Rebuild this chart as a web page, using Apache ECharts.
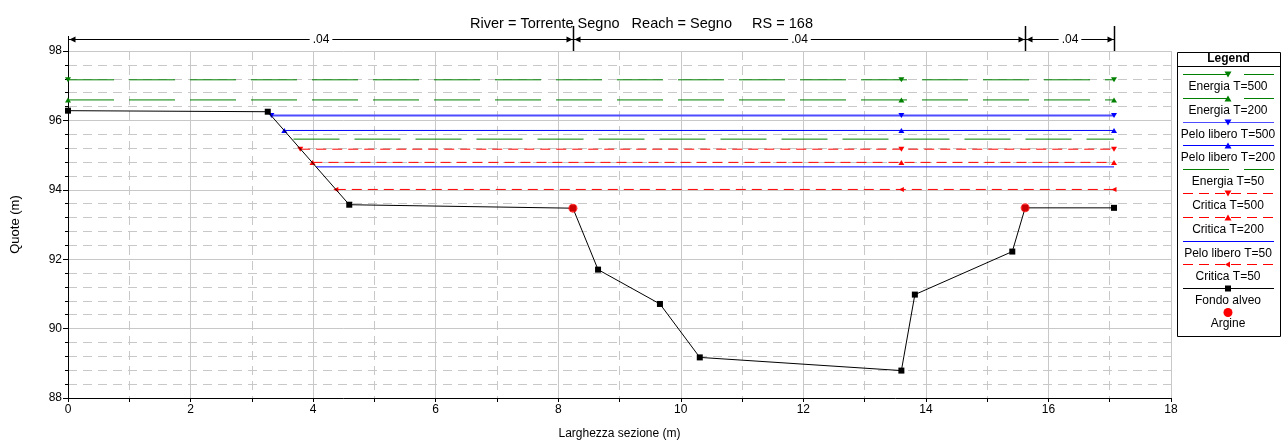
<!DOCTYPE html>
<html><head><meta charset="utf-8">
<script src="https://cdn.jsdelivr.net/npm/echarts@6/dist/echarts.min.js"></script>
<style>html,body{margin:0;padding:0;background:#fff}#c{width:1283px;height:445px}</style>
</head><body><div id="c"></div>
<script>
// ---------- DATA ----------
const groundX = [0, 3.26, 4.59, 8.24, 8.65, 9.66, 10.31, 13.60, 13.82, 15.41, 15.62, 17.07];
const groundY = [96.28, 96.25, 93.57, 93.47, 91.70, 90.71, 89.17, 88.79, 90.98, 92.22, 93.48, 93.48];
const argineX = [8.24, 15.62];
const argineY = [93.47, 93.48];
const wsNames = ['Energia T=500', 'Energia T=200', 'Pelo libero T=500', 'Pelo libero T=200', 'Energia T=50',
  'Critica T=500', 'Critica T=200', 'Pelo libero T=50', 'Critica T=50'];
const wsLevels = [97.17, 96.59, 96.14, 95.71, 95.46, 95.17, 94.79, 94.66, 94.01];
const wsStartX = [0, 0, 3.32, 3.53, 3.68, 3.79, 3.99, 4.05, 4.37];
const wsMarkX = 13.6;
const wsEndX = 17.07;
const nBoundsX = [0, 8.24, 15.62, 17.07];
const nValues = ['.04', '.04', '.04'];
const titleText = 'River = Torrente Segno   Reach = Segno     RS = 168';
const xName = 'Larghezza sezione (m)';
const yName = 'Quote (m)';

// ---------- STYLES ----------
const FONT = 'Liberation Sans, Arial, sans-serif';
const GREEN = '#008000', BLUE = '#0000ff', RED = '#ff0000';
const TRI_DOWN = 'path://M0,0L10,0L5,9Z';
const TRI_UP = 'path://M5,0L10,9L0,9Z';
const TRI_LEFT = 'path://M0,5L9,0L9,10Z';
const wsStyles = [
  {color: GREEN, dash: [46, 15], symbol: TRI_DOWN, width: 1},
  {color: GREEN, dash: [46, 15], symbol: TRI_UP, width: 1},
  {color: '#4d4dff', dash: 'solid', symbol: TRI_DOWN, width: 2, markColor: BLUE},
  {color: BLUE, dash: 'solid', symbol: TRI_UP, width: 1},
  {color: GREEN, dash: [46, 15], symbol: null, width: 1},
  {color: RED, dash: [10, 6], symbol: TRI_DOWN, width: 1},
  {color: RED, dash: [10, 6], symbol: TRI_UP, width: 1},
  {color: BLUE, dash: 'solid', symbol: null, width: 1},
  {color: RED, dash: [10, 6], symbol: TRI_LEFT, width: 1}
];

const chart = echarts.init(document.getElementById('c'), null, {renderer: 'canvas'});

const wsSeries = wsNames.map((name, i) => {
  const st = wsStyles[i];
  const y = wsLevels[i];
  const data = st.symbol ? [[wsStartX[i], y], [wsMarkX, y], [wsEndX, y]] : [[wsStartX[i], y], [wsEndX, y]];
  return {
    type: 'line', name: name, data: data,
    symbol: st.symbol || 'none', symbolSize: st.symbol === TRI_LEFT ? [5, 5] : [6, 5], showAllSymbol: true,
    lineStyle: {color: st.color, width: st.width, type: st.dash},
    itemStyle: {color: st.markColor || st.color},
    z: 5, animation: false, silent: true
  };
});

const groundSeries = {
  type: 'line', name: 'Fondo alveo',
  data: groundX.map((x, i) => [x, groundY[i]]),
  symbol: 'rect', symbolSize: 6, showAllSymbol: true,
  lineStyle: {color: '#000', width: 1}, itemStyle: {color: '#000'},
  z: 6, animation: false, silent: true
};
const argineSeries = {
  type: 'scatter', name: 'Argine',
  data: argineX.map((x, i) => [x, argineY[i]]),
  symbol: 'circle', symbolSize: 9, itemStyle: {color: RED},
  z: 7, animation: false, silent: true
};

const manningSeries = {
  type: 'custom', clip: false, z: 8, animation: false, silent: true,
  data: nValues.map((v, i) => [nBoundsX[i], nBoundsX[i + 1]]),
  renderItem: function (params, api) {
    const i = params.dataIndex;
    const p0 = api.coord([api.value(0), 98]);
    const p1 = api.coord([api.value(1), 98]);
    const yTop = p0[1];
    const yl = Math.round(yTop - 12) + 0.5;
    const L = Math.round(p0[0]) + 0.5, R = Math.round(p1[0]) + 0.5;
    const ls = {stroke: '#000', lineWidth: 1};
    const ch = [
      {type: 'line', shape: {x1: L, y1: yl, x2: R, y2: yl}, style: ls},
      {type: 'line', shape: {x1: R, y1: yTop - 25, x2: R, y2: yTop}, style: {stroke: '#000', lineWidth: 1.5}},
      {type: 'polygon', shape: {points: [[L + 1, yl], [L + 7, yl - 3], [L + 7, yl + 3]]}, style: {fill: '#000'}},
      {type: 'polygon', shape: {points: [[R - 1, yl], [R - 7, yl - 3], [R - 7, yl + 3]]}, style: {fill: '#000'}},
      {type: 'text', x: (L + R) / 2, y: yl, style: {text: nValues[i], fill: '#000', font: '12px ' + FONT,
        align: 'center', verticalAlign: 'middle', backgroundColor: '#fff', padding: [0, 3]}}
    ];
    if (i === 0) {
      ch.push({type: 'line', shape: {x1: L, y1: yTop - 15, x2: L, y2: yTop}, style: ls});
    }
    return {type: 'group', children: ch};
  }
};

// ---------- LEGEND (graphic) ----------
const legendNames = wsNames.concat(['Fondo alveo']);
const legendStyles = wsStyles.concat([{color: '#000', dash: 'solid', symbol: 'rect', width: 1}]);
const LX0 = 1177, LX1 = 1280, LY0 = 52, LY1 = 336;
const lineX0 = 1183, lineX1 = 1274, mx = 1228;
const g = [];
g.push({type: 'rect', shape: {x: LX0 + 0.5, y: LY0 + 0.5, width: LX1 - LX0, height: LY1 - LY0},
  style: {fill: '#fff', stroke: '#000', lineWidth: 1}, z: 100});
g.push({type: 'text', x: (LX0 + LX1) / 2, y: 59, style: {text: 'Legend', font: 'bold 12px ' + FONT,
  fill: '#000', align: 'center', verticalAlign: 'middle'}, z: 101});
g.push({type: 'line', shape: {x1: LX0, y1: 66.5, x2: LX1, y2: 66.5}, style: {stroke: '#000', lineWidth: 1}, z: 101});
function markerShape(sym, cx, cy, color) {
  if (sym === TRI_DOWN) return {type: 'polygon', shape: {points: [[cx - 3.5, cy - 3], [cx + 3.5, cy - 3], [cx, cy + 3]]}, style: {fill: color}, z: 102};
  if (sym === TRI_UP) return {type: 'polygon', shape: {points: [[cx - 3.5, cy + 3], [cx + 3.5, cy + 3], [cx, cy - 3]]}, style: {fill: color}, z: 102};
  if (sym === TRI_LEFT) return {type: 'polygon', shape: {points: [[cx - 3, cy], [cx + 2, cy - 3], [cx + 2, cy + 3]]}, style: {fill: color}, z: 102};
  if (sym === 'rect') return {type: 'rect', shape: {x: cx - 3, y: cy - 3, width: 6, height: 6}, style: {fill: color}, z: 102};
  return null;
}
legendNames.forEach((name, i) => {
  const st = legendStyles[i];
  const ly = Math.round(74 + i * 23.8) + 0.5;
  g.push({type: 'line', shape: {x1: lineX0, y1: ly, x2: lineX1, y2: ly},
    style: {stroke: st.color, lineWidth: 1, lineDash: st.dash === 'solid' ? null : st.dash}, z: 101});
  const m = st.symbol ? markerShape(st.symbol, mx, ly, st.markColor || st.color) : null;
  if (m) g.push(m);
  g.push({type: 'text', x: mx, y: ly + 12, style: {text: name, font: '12px ' + FONT, fill: '#000',
    align: 'center', verticalAlign: 'middle'}, z: 101});
});
g.push({type: 'circle', shape: {cx: mx, cy: 312.5, r: 4.5}, style: {fill: RED}, z: 102});
g.push({type: 'text', x: mx, y: 324, style: {text: 'Argine', font: '12px ' + FONT, fill: '#000',
  align: 'center', verticalAlign: 'middle'}, z: 101});

const gridLineColor = '#c8c8c8';
chart.setOption({
  animation: false,
  textStyle: {fontFamily: FONT},
  title: {text: titleText, left: 'center', top: 11,
    textStyle: {fontSize: 14.5, fontWeight: 'normal', color: '#000', fontFamily: FONT}},
  legend: {show: false},
  grid: {left: 68, right: 112, top: 51, bottom: 44, containLabel: false},
  xAxis: {
    type: 'value', min: 0, max: 18, interval: 2,
    name: xName, nameLocation: 'middle', nameGap: 30,
    nameTextStyle: {fontSize: 12, color: '#000', fontFamily: FONT},
    axisLine: {show: true, onZero: false, lineStyle: {color: '#000', width: 1}},
    axisTick: {show: true, length: 4, lineStyle: {color: '#000'}},
    minorTick: {show: true, splitNumber: 2, length: 4, lineStyle: {color: '#000'}},
    axisLabel: {fontSize: 12, color: '#000', margin: 6, fontFamily: FONT},
    splitLine: {show: true, lineStyle: {color: gridLineColor, width: 1}},
    minorSplitLine: {show: true, lineStyle: {color: gridLineColor, width: 1, type: [9, 6]}}
  },
  yAxis: {
    type: 'value', min: 88, max: 98, interval: 2,
    name: yName, nameLocation: 'middle', nameGap: 46, nameRotate: 90,
    nameTextStyle: {fontSize: 13, color: '#000', fontFamily: FONT},
    axisLine: {show: true, onZero: false, lineStyle: {color: '#000', width: 1}},
    axisTick: {show: true, length: 5, lineStyle: {color: '#000'}},
    minorTick: {show: true, splitNumber: 5, length: 3, lineStyle: {color: '#000'}},
    axisLabel: {fontSize: 12, color: '#000', margin: 6, fontFamily: FONT},
    splitLine: {show: true, lineStyle: {color: gridLineColor, width: 1}},
    minorSplitLine: {show: true, lineStyle: {color: gridLineColor, width: 1, type: [9, 6]}}
  },
  graphic: g,
  series: wsSeries.concat([groundSeries, argineSeries, manningSeries])
});
</script></body></html>
